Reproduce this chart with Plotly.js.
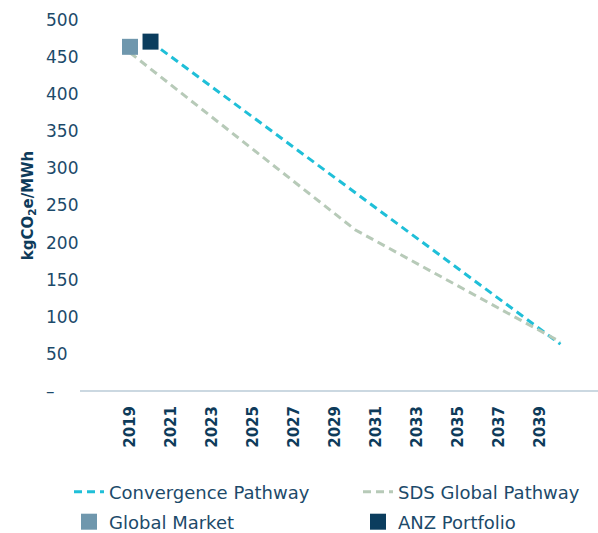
<!DOCTYPE html>
<html>
<head>
<meta charset="utf-8">
<script src="https://cdn.plot.ly/plotly-3.0.1.min.js"></script>
<style>html,body{margin:0;padding:0;background:#fff;}#chart{width:598px;height:533px;}</style>
</head>
<body>
<div id="chart"></div>
<script>
// Data
const convergenceYears = [2020, 2040];
const convergenceValues = [471, 63];
const sdsYears = [2019, 2030, 2040];
const sdsValues = [456, 217, 66];
const globalMarketYear = [2019];
const globalMarketValue = [464];
const anzYear = [2020];
const anzValue = [471];
const xTickYears = [2019, 2021, 2023, 2025, 2027, 2029, 2031, 2033, 2035, 2037, 2039];
const xTickLabels = ['2019','2021','2023','2025','2027','2029','2031','2033','2035','2037','2039'];
const yTickValues = [0, 50, 100, 150, 200, 250, 300, 350, 400, 450, 500];
const yTickLabels = ['–','50','100','150','200','250','300','350','400','450','500'];

const textColor = '#1c4a6a';
const boldColor = '#0e3b5a';
const F = 'DejaVu Sans';

const traces = [
  {x: convergenceYears, y: convergenceValues, name: 'Convergence Pathway', mode: 'lines',
   line: {color: '#1fbfd8', width: 3, dash: '8px,5px'}, legend: 'legend'},
  {x: sdsYears, y: sdsValues, name: 'SDS Global Pathway', mode: 'lines',
   line: {color: '#b7cab8', width: 3, dash: '8px,5px'}, legend: 'legend2'},
  {x: globalMarketYear, y: globalMarketValue, name: 'Global Market', mode: 'markers',
   marker: {symbol: 'square', size: 16, color: '#6f97ad'}, legend: 'legend3'},
  {x: anzYear, y: anzValue, name: 'ANZ Portfolio', mode: 'markers',
   marker: {symbol: 'square', size: 16, color: '#0b3d5e'}, legend: 'legend4'}
];

// plot area: top px 9, bottom px 402 (value 0 at px 391)
const PT = 9, PB = 402;
function py(p) { return (PB - p) / (PB - PT); }
function px(p) { return p / 598; }

function leg(xp, yp) {
  return {
    orientation: 'h', xanchor: 'left', yanchor: 'middle', x: px(xp), y: py(yp),
    itemwidth: 30, font: {family: F, size: 18, color: textColor},
    bgcolor: 'rgba(0,0,0,0)'
  };
}

const layout = {
  width: 598, height: 533,
  margin: {l: 0, r: 0, t: PT, b: 533 - PB, autoexpand: false},
  paper_bgcolor: '#fff', plot_bgcolor: '#fff',
  showlegend: true,
  font: {family: F, color: textColor},
  xaxis: {
    domain: [80/598, 1], range: [2016.56, 2041.83],
    tickmode: 'array', tickvals: xTickYears, ticktext: xTickLabels,
    tickangle: -90, tickfont: {family: F, size: 15, color: boldColor, weight: 'bold'},
    showgrid: false, zeroline: false, showline: false,
    ticks: '', ticklabelstandoff: 0, automargin: false, fixedrange: true
  },
  yaxis: {
    anchor: 'free', position: 42/598, range: [-15, 515],
    tickmode: 'array', tickvals: yTickValues, ticktext: yTickLabels,
    ticklabelposition: 'inside', tickfont: {family: F, size: 17, color: textColor},
    showgrid: false, showline: false, ticks: '',
    zeroline: true, zerolinecolor: '#cbd8e1', zerolinewidth: 2,
    title: {text: '<b>kgCO<sub>2</sub>e/MWh</b>', font: {family: F, size: 15, color: boldColor}, standoff: 7},
    automargin: false, fixedrange: true
  },
  legend: leg(69, 492),
  legend2: leg(358, 492),
  legend3: leg(69, 522),
  legend4: leg(358, 522)
};

Plotly.newPlot('chart', traces, layout, {displayModeBar: false, staticPlot: true});
</script>
</body>
</html>
